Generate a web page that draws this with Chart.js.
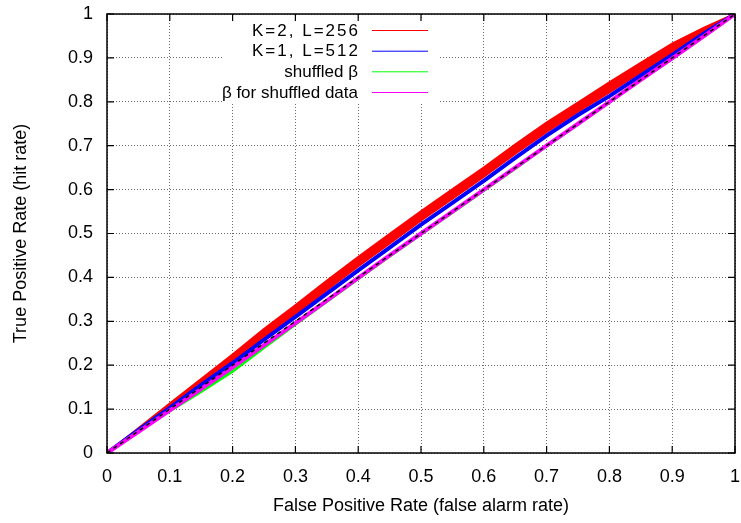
<!DOCTYPE html>
<html>
<head>
<meta charset="utf-8">
<script src="https://cdn.jsdelivr.net/npm/chart.js@4/dist/chart.umd.min.js"></script>
<style>
html,body{margin:0;padding:0;background:#fff;}
#wrap{width:741px;height:523px;}
</style>
</head>
<body>
<div id="wrap"><canvas id="c" width="741" height="523"></canvas></div>
<script>
// ---- data ----
const fpr        = [0,0.05,0.1,0.15,0.2,0.25,0.3,0.35,0.4,0.45,0.5,0.55,0.6,0.65,0.7,0.75,0.8,0.85,0.9,0.95,1];
const redTop     = [0,0.056,0.112,0.168,0.224,0.282,0.336,0.392,0.446,0.498,0.550,0.600,0.650,0.702,0.752,0.798,0.844,0.888,0.932,0.968,1];
const redBottom  = [0,0.053,0.106,0.158,0.210,0.264,0.318,0.372,0.426,0.478,0.530,0.580,0.630,0.682,0.732,0.778,0.822,0.868,0.914,0.958,1];
const blueTPR    = [0,0.052,0.103,0.155,0.205,0.258,0.310,0.363,0.416,0.468,0.520,0.570,0.620,0.672,0.723,0.770,0.813,0.860,0.907,0.955,1];
const greenTPR   = [0,0.049,0.096,0.140,0.186,0.240,0.293,0.345,0.397,0.448,0.498,0.548,0.598,0.648,0.699,0.749,0.799,0.850,0.898,0.948,1];
const magentaTPR = [0,0.048,0.097,0.146,0.195,0.246,0.296,0.347,0.399,0.450,0.500,0.550,0.600,0.650,0.700,0.750,0.800,0.850,0.899,0.949,1];
const diagX = [0,1];
const diagY = [0,1];
const xTickLabels = ["0","0.1","0.2","0.3","0.4","0.5","0.6","0.7","0.8","0.9","1"];
const yTickLabels = ["0","0.1","0.2","0.3","0.4","0.5","0.6","0.7","0.8","0.9","1"];
const legendLabels = ["K=2, L=256","K=1, L=512","shuffled \u03b2","\u03b2 for shuffled data"];
const legendColors = ["#ff0000","#0000ff","#00ff00","#ff00ff"];

const FONT = "'Liberation Sans', Arial, Helvetica, sans-serif";
const pts = (xs, ys) => xs.map((x, i) => ({x: x, y: ys[i]}));

const framePlugin = {
  id: 'frame',
  afterDraw(chart) {
    const ctx = chart.ctx, a = chart.chartArea;
    const xs = chart.scales.x, ys = chart.scales.y;
    ctx.save();
    // legend box (opaque)
    ctx.fillStyle = '#fff';
    ctx.fillRect(222, 19, 218, 83);
    ctx.font = '17px ' + FONT;
    ctx.textAlign = 'right';
    ctx.textBaseline = 'middle';
    const rowY = [30, 50.7, 71.3, 92];
    const targetW = [108, 108, 0, 0];
    legendLabels.forEach((lab, i) => {
      ctx.fillStyle = '#000';
      if (targetW[i]) {
        const w = ctx.measureText(lab).width;
        const sp = (targetW[i] - w) / lab.length;
        ctx.letterSpacing = sp.toFixed(2) + 'px';
        ctx.fillText(lab, 358 + sp, rowY[i] + 1);
        ctx.letterSpacing = '0px';
      } else {
        ctx.fillText(lab, 358, rowY[i] + 1);
      }
      ctx.strokeStyle = legendColors[i];
      ctx.lineWidth = 1;
      ctx.beginPath();
      ctx.moveTo(372, rowY[i] + 0.5);
      ctx.lineTo(428, rowY[i] + 0.5);
      ctx.stroke();
    });
    // frame
    ctx.strokeStyle = '#000';
    ctx.lineWidth = 1.5;
    ctx.strokeRect(a.left, a.top, a.right - a.left, a.bottom - a.top);
    // inward ticks on all sides
    ctx.lineWidth = 1.2;
    ctx.beginPath();
    for (let i = 0; i < xTickLabels.length; i++) {
      const v = i / 10;
      const px = xs.getPixelForValue(v);
      ctx.moveTo(px, a.bottom); ctx.lineTo(px, a.bottom - 7);
      ctx.moveTo(px, a.top); ctx.lineTo(px, a.top + 7);
      const py = ys.getPixelForValue(v);
      ctx.moveTo(a.left, py); ctx.lineTo(a.left + 7, py);
      ctx.moveTo(a.right, py); ctx.lineTo(a.right - 7, py);
    }
    ctx.stroke();
    ctx.restore();
  }
};

const gridOpts = {color: '#6a6a6a', lineWidth: 1, drawTicks: false};

new Chart(document.getElementById('c'), {
  type: 'line',
  data: {
    datasets: [
      {label: 'diag', data: pts(diagX, diagY), borderColor: '#000', borderWidth: 1.5, borderDash: [4, 4], order: 0},
      {label: legendLabels[3], data: pts(fpr, magentaTPR), borderColor: '#ff00ff', borderWidth: 4, order: 1},
      {label: legendLabels[2], data: pts(fpr, greenTPR), borderColor: '#00ff00', borderWidth: 3, order: 2},
      {label: legendLabels[1], data: pts(fpr, blueTPR), borderColor: '#0000ff', borderWidth: 4, order: 3},
      {label: legendLabels[0], data: pts(fpr, redTop), borderColor: '#ff0000', borderWidth: 2.5, backgroundColor: '#ff0000', fill: '+1', order: 4},
      {label: 'redB', data: pts(fpr, redBottom), borderColor: '#ff0000', borderWidth: 2.5, order: 5}
    ]
  },
  options: {
    responsive: false,
    animation: false,
    devicePixelRatio: 1,
    layout: {padding: {left: 0, right: 6, top: 14, bottom: 0}},
    elements: {point: {radius: 0}, line: {tension: 0}},
    plugins: {legend: {display: false}, tooltip: {enabled: false}},
    scales: {
      x: {
        type: 'linear', min: 0, max: 1,
        grid: gridOpts,
        border: {display: false, dash: [1, 2]},
        ticks: {stepSize: 0.1, padding: 13, color: '#000', font: {family: FONT, size: 18},
                callback: (v) => xTickLabels[Math.round(v * 10)], maxRotation: 0, autoSkip: false},
        title: {display: true, text: 'False Positive Rate (false alarm rate)', color: '#000',
                font: {family: FONT, size: 18}, padding: {top: 0, bottom: 6}},
        afterFit: (s) => { s.height = 70; s.paddingLeft = 0; s.paddingRight = 0; }
      },
      y: {
        type: 'linear', min: 0, max: 1,
        grid: gridOpts,
        border: {display: false, dash: [1, 2]},
        ticks: {stepSize: 0.1, padding: 14, color: '#000', font: {family: FONT, size: 18},
                callback: (v) => yTickLabels[Math.round(v * 10)], autoSkip: false},
        title: {display: true, text: 'True Positive Rate (hit rate)', color: '#000',
                font: {family: FONT, size: 18}, padding: {top: 10, bottom: 0}},
        afterFit: (s) => { s.width = 107; s.paddingTop = 0; s.paddingBottom = 0; }
      }
    }
  },
  plugins: [framePlugin]
});
</script>
</body>
</html>
